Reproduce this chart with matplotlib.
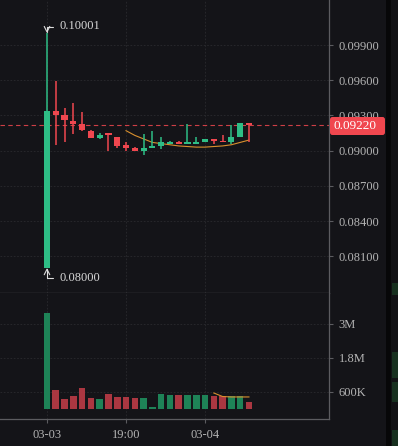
import matplotlib
matplotlib.use("Agg")
import matplotlib.pyplot as plt
from matplotlib.patches import Rectangle, FancyBboxPatch
from matplotlib.ticker import FixedLocator, FixedFormatter
import numpy as np

# candle data
opens = [0.0800, 0.0934, 0.0930, 0.0925, 0.0923, 0.0917, 0.0911, 0.0915, 0.0912, 0.0905, 0.0902, 0.0900,
         0.0902, 0.0904, 0.0906, 0.0907, 0.0906, 0.0906, 0.0907, 0.0910, 0.0908, 0.0907, 0.0912, 0.09235]
highs = [0.10001, 0.0959, 0.0936, 0.0941, 0.0933, 0.0918, 0.0915, 0.0915, 0.0912, 0.0907, 0.0903, 0.0914,
         0.0917, 0.0912, 0.0908, 0.0908, 0.0923, 0.0912, 0.0910, 0.0910, 0.0913, 0.0922, 0.09235, 0.09235]
lows = [0.0800, 0.0905, 0.0907, 0.0914, 0.0917, 0.0911, 0.0910, 0.0900, 0.0902, 0.0900, 0.0900, 0.0896,
        0.0902, 0.0901, 0.0906, 0.0906, 0.0906, 0.0906, 0.0907, 0.0906, 0.0907, 0.0906, 0.0912, 0.0907]
closes = [0.0934, 0.0930, 0.0926, 0.0923, 0.0918, 0.0911, 0.0913, 0.0913, 0.0904, 0.0902, 0.0900, 0.0902,
          0.0904, 0.0907, 0.0907, 0.0906, 0.0907, 0.0907, 0.0910, 0.0908, 0.0907, 0.0912, 0.09235, 0.0922]
volumes = [3390e3, 670e3, 350e3, 460e3, 740e3, 390e3, 350e3, 530e3, 420e3, 420e3, 390e3, 390e3,
           70e3, 530e3, 490e3, 490e3, 490e3, 490e3, 490e3, 460e3, 460e3, 460e3, 460e3, 250e3]

# moving average lines as drawn on the chart
ma_start = 9
ma_price = [0.0917, 0.0913, 0.0910, 0.0907, 0.0906, 0.0905, 0.0904, 0.09035, 0.0903, 0.0903,
            0.09035, 0.0904, 0.0905, 0.0907, 0.0909]
vol_ma_start = 19
ma_volume = [565e3, 440e3, 425e3, 425e3, 425e3]

last_price = 0.0922
price_ticks = [0.081, 0.084, 0.087, 0.090, 0.093, 0.096, 0.099]
vol_ticks = [600e3, 1.8e6, 3e6]
vol_labels = ["600K", "1.8M", "3M"]
x_ticks = [0, 9, 18]
x_labels = ["03-03", "19:00", "03-04"]

BG = "#141418"
GREEN = "#2ebd85"
RED = "#f0474f"
VGREEN = "#1e8357"
VRED = "#ab3741"
AXC = "#5c5c60"
TXT = "#b4b4b4"
GRID = "#2a2a2e"
MA_COL = "#d8902e"
SERIF = ["Liberation Serif", "DejaVu Serif"]

W, H = 398, 446
fig = plt.figure(figsize=(W / 100, H / 100), dpi=100, facecolor=BG)

ax = fig.add_axes([0, (H - 293) / H, 329 / W, 293 / H], facecolor=BG)
axv = fig.add_axes([0, (H - 419) / H, 329 / W, 126 / H], facecolor=BG, sharex=ax)

x = np.arange(len(opens))
up = [c >= o for o, c in zip(opens, closes)]
ccol = [GREEN if u else RED for u in up]
vcol = [VGREEN if u else VRED for u in up]

# candles
ax.vlines(x, lows, highs, colors=ccol, linewidth=1.1, zorder=3)
bottoms = [min(o, c) for o, c in zip(opens, closes)]
heights = [max(abs(c - o), 0.00013) for o, c in zip(opens, closes)]
ax.bar(x, heights, bottom=bottoms, width=0.7, color=ccol, zorder=4)
ax.plot(np.arange(ma_start, ma_start + len(ma_price)), ma_price, color=MA_COL, lw=0.8, zorder=2)

ax.axhline(last_price, color=RED, lw=0.8, ls=(0, (4, 3)), alpha=0.85, zorder=1)

# high / low markers
ax.annotate("", xy=(0, highs[0]), xytext=(6, 6), textcoords="offset pixels",
            arrowprops=dict(arrowstyle="->", color="#dddddd", lw=0.8, shrinkA=0, shrinkB=0,
                            connectionstyle="angle,angleA=0,angleB=90,rad=0"))
ax.annotate("0.10001", xy=(0, highs[0]), xytext=(12, 7), textcoords="offset pixels",
            color="#d8d8d8", fontsize=9, family=SERIF, va="center")
ax.annotate("", xy=(0, lows[0]), xytext=(6, -10), textcoords="offset pixels",
            arrowprops=dict(arrowstyle="->", color="#dddddd", lw=0.8, shrinkA=0, shrinkB=0,
                            connectionstyle="angle,angleA=0,angleB=90,rad=0"))
ax.annotate("0.08000", xy=(0, lows[0]), xytext=(12, -10), textcoords="offset pixels",
            color="#d8d8d8", fontsize=9, family=SERIF, va="center")

ax.set_ylim(0.077864, 0.10284)
ax.set_xlim(-47 / 8.78, (329 - 47) / 8.78)
ax.yaxis.tick_right()
ax.yaxis.set_major_locator(FixedLocator(price_ticks))
ax.yaxis.set_major_formatter(FixedFormatter(["%.5f" % t for t in price_ticks]))
ax.tick_params(axis="y", colors=AXC, labelcolor=TXT, length=3, width=0.8, pad=4, labelsize=9)
ax.tick_params(axis="x", length=0, labelbottom=False)

# volume
axv.bar(x, volumes, width=0.75, color=vcol, zorder=3)
axv.plot(np.arange(vol_ma_start, vol_ma_start + len(ma_volume)), ma_volume, color=MA_COL, lw=0.8, zorder=4)
axv.set_ylim(-353e3, 4.094e6)
axv.yaxis.tick_right()
axv.yaxis.set_major_locator(FixedLocator(vol_ticks))
axv.yaxis.set_major_formatter(FixedFormatter(vol_labels))
axv.tick_params(axis="y", colors=AXC, labelcolor=TXT, length=3, width=0.8, pad=4, labelsize=9)
axv.set_xticks(x_ticks)
axv.set_xticklabels(x_labels)
axv.tick_params(axis="x", colors=AXC, labelcolor=TXT, length=3, width=0.8, pad=4, labelsize=9)

for a in (ax, axv):
    a.grid(True, color=GRID, lw=0.6, ls=(0, (2, 2)))
    a.set_axisbelow(True)
    for s in ("left", "top"):
        a.spines[s].set_visible(False)
    for s in ("right", "bottom"):
        a.spines[s].set_color(AXC)
        a.spines[s].set_linewidth(0.9)
    for lbl in a.get_yticklabels() + a.get_xticklabels():
        lbl.set_family(SERIF)

# last price tag on the axis (covers the lower half of the 0.09300 label, as in the app)
ytag = 1 - 126 / H
fig.patches.append(FancyBboxPatch((330 / W, ytag - 9 / H), 55 / W, 18 / H,
                                  boxstyle="round,pad=0,rounding_size=0.006",
                                  transform=fig.transFigure, facecolor=RED, edgecolor="none", zorder=5))
fig.text(333 / W, ytag, "%.5f" % last_price, color="white", fontsize=9.5, family=SERIF,
         va="center", ha="left", zorder=6)

# dark side panel at the right edge
fig.patches.append(Rectangle((386 / W, 0), 5 / W, 1, transform=fig.transFigure,
                             facecolor="#070708", edgecolor="none", zorder=5))
fig.patches.append(Rectangle((391 / W, 0), 7 / W, 1, transform=fig.transFigure,
                             facecolor="#111114", edgecolor="none", zorder=5))
for y0, y1 in [(283, 295), (352, 378), (382, 402), (430, 446)]:
    fig.patches.append(Rectangle((392 / W, 1 - y1 / H), 6 / W, (y1 - y0) / H, transform=fig.transFigure,
                                 facecolor="#17301f", edgecolor="none", zorder=6))

fig.savefig("out.png", dpi=100, facecolor=BG)
